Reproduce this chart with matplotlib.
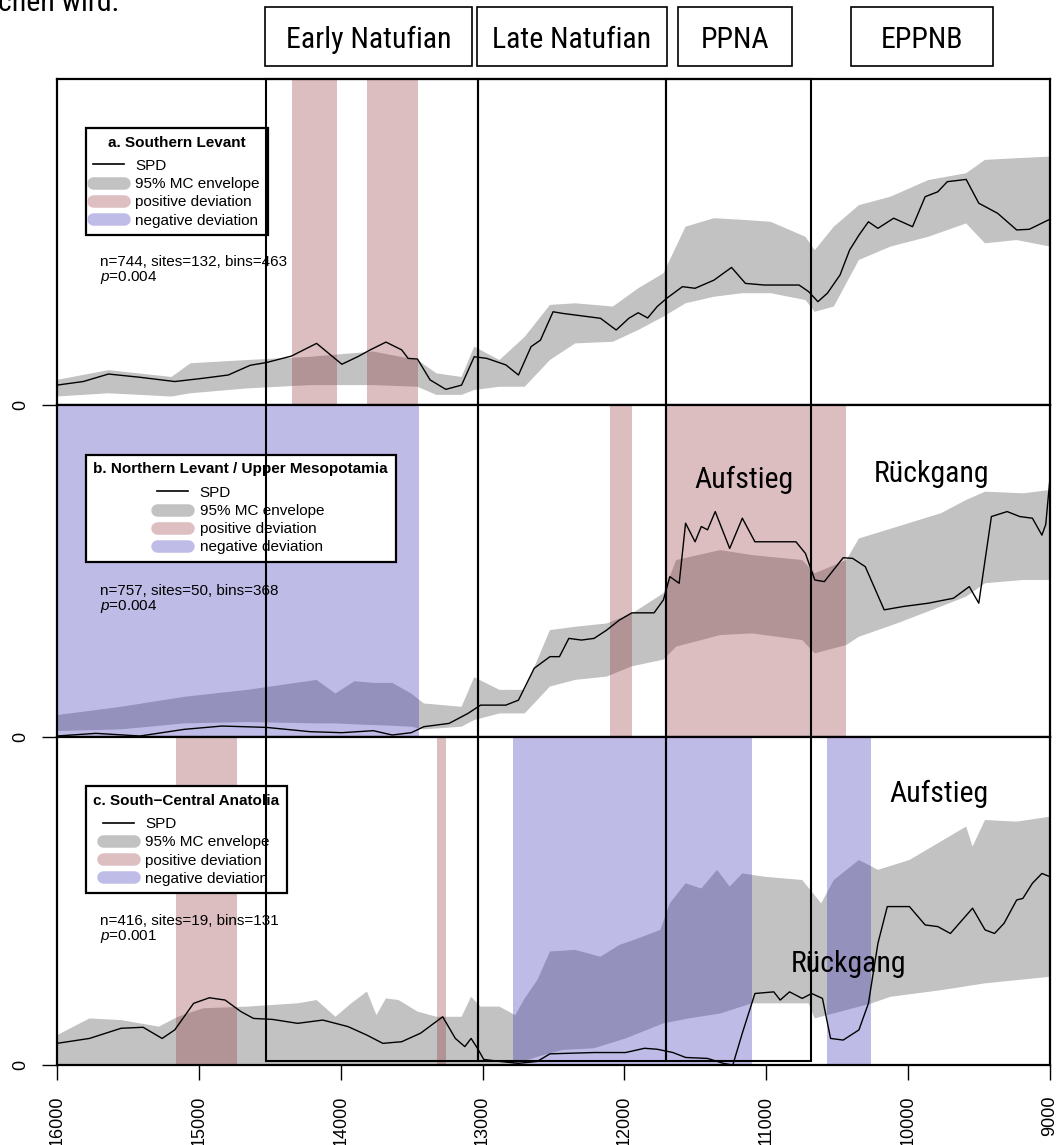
import matplotlib.pyplot as plt
import numpy as np
from matplotlib import font_manager
from matplotlib.lines import Line2D
from matplotlib.patches import Rectangle
from matplotlib.transforms import blended_transform_factory

plt.rcParams.update(
    {
        "font.family": ["Liberation Sans", "DejaVu Sans"],
        "mathtext.fontset": "custom",
        "mathtext.rm": "Liberation Sans",
        "mathtext.it": "Liberation Sans:italic",
    }
)


def _narrow_font():
    """Prefer a condensed face for the headings; otherwise shrink the regular one."""
    for name in ("Liberation Sans Narrow", "Arial Narrow", "Roboto Condensed"):
        try:
            font_manager.findfont(font_manager.FontProperties(family=name),
                                  fallback_to_default=False)
            return [name, "DejaVu Sans"], 21.5
        except ValueError:
            continue
    return ["Liberation Sans", "DejaVu Sans"], 19


NARROW, NARROW_SIZE = _narrow_font()

# --- a. Southern Levant -------------------------------------------------
a_spd_year = [16000, 15815, 15637, 15415, 15170, 14970, 14793, 14637, 14526, 14348,
              14170, 13992, 13881, 13792, 13681, 13570, 13525, 13459, 13370, 13259,
              13148, 13059, 12970, 12836, 12747, 12658, 12592, 12503, 12436, 12347,
              12169, 12058, 11969, 11903, 11836, 11769, 11703, 11591, 11502, 11369,
              11245, 11147, 11014, 10769, 10702, 10636, 10569, 10480, 10413, 10347,
              10280, 10213, 10102, 9969, 9880, 9791, 9724, 9591, 9502, 9369,
              9235, 9146, 9000]
a_spd = [0.061, 0.072, 0.095, 0.085, 0.072, 0.082, 0.092, 0.122, 0.130, 0.150,
         0.189, 0.125, 0.148, 0.169, 0.193, 0.169, 0.143, 0.141, 0.077, 0.048,
         0.061, 0.148, 0.143, 0.123, 0.092, 0.179, 0.199, 0.286, 0.281, 0.276,
         0.266, 0.230, 0.266, 0.283, 0.267, 0.302, 0.327, 0.363, 0.358, 0.383,
         0.422, 0.373, 0.368, 0.368, 0.348, 0.317, 0.343, 0.399, 0.475, 0.521,
         0.562, 0.542, 0.573, 0.547, 0.639, 0.654, 0.685, 0.692, 0.619, 0.588,
         0.537, 0.539, 0.570]
a_env_year = [16000, 15637, 15193, 15059, 14659, 14215, 13770, 13459, 13325, 13148,
              13059, 12881, 12703, 12525, 12347, 12081, 11903, 11725, 11569, 11369,
              11169, 10969, 10724, 10658, 10524, 10347, 10124, 9858, 9591, 9458,
              9235, 9000]
a_env_hi = [0.077, 0.107, 0.086, 0.128, 0.138, 0.148, 0.164, 0.138, 0.097, 0.086,
            0.179, 0.138, 0.209, 0.307, 0.312, 0.302, 0.358, 0.404, 0.547, 0.573,
            0.568, 0.562, 0.516, 0.475, 0.547, 0.613, 0.639, 0.690, 0.711, 0.752,
            0.757, 0.762]
a_env_lo = [0.026, 0.036, 0.026, 0.036, 0.051, 0.061, 0.061, 0.056, 0.031, 0.031,
            0.046, 0.056, 0.056, 0.138, 0.189, 0.194, 0.230, 0.271, 0.312, 0.332,
            0.343, 0.343, 0.322, 0.286, 0.302, 0.445, 0.486, 0.516, 0.557, 0.496,
            0.506, 0.486]
a_pos = [(14340, 14025), (13815, 13455)]
a_neg = []

# --- b. Northern Levant / Upper Mesopotamia -----------------------------
b_spd_year = [16000, 15726, 15415, 15104, 14837, 14526, 14215, 13992, 13770, 13637,
              13503, 13414, 13236, 13103, 13014, 12836, 12747, 12636, 12525, 12458,
              12392, 12303, 12214, 12125, 12036, 11947, 11791, 11725, 11680, 11614,
              11569, 11502, 11458, 11414, 11360, 11258, 11169, 11080, 10791, 10724,
              10658, 10591, 10458, 10391, 10302, 10169, 10035, 9858, 9680, 9569,
              9502, 9413, 9302, 9213, 9124, 9057, 9030, 9000]
b_spd = [0.003, 0.011, 0.003, 0.023, 0.033, 0.029, 0.016, 0.013, 0.019, 0.006,
         0.013, 0.031, 0.041, 0.071, 0.096, 0.096, 0.111, 0.207, 0.242, 0.242,
         0.297, 0.292, 0.297, 0.322, 0.352, 0.374, 0.374, 0.413, 0.483, 0.463,
         0.644, 0.588, 0.634, 0.624, 0.679, 0.568, 0.659, 0.588, 0.588, 0.553,
         0.473, 0.468, 0.540, 0.538, 0.513, 0.383, 0.393, 0.403, 0.418, 0.453,
         0.403, 0.664, 0.679, 0.664, 0.659, 0.608, 0.640, 0.780]
b_env_year = [16000, 15548, 15104, 14659, 14170, 14037, 13903, 13770, 13637, 13503,
              13414, 13148, 13059, 12881, 12703, 12525, 12347, 12125, 11947, 11725,
              11636, 11325, 11102, 10747, 10658, 10436, 10347, 10080, 9769, 9591,
              9458, 9191, 9000]
b_env_hi = [0.066, 0.091, 0.121, 0.142, 0.172, 0.131, 0.168, 0.163, 0.163, 0.131,
            0.101, 0.091, 0.180, 0.142, 0.142, 0.322, 0.332, 0.342, 0.372, 0.433,
            0.533, 0.563, 0.548, 0.533, 0.493, 0.533, 0.598, 0.633, 0.674, 0.714,
            0.739, 0.734, 0.744]
b_env_lo = [0.018, 0.023, 0.041, 0.045, 0.041, 0.041, 0.038, 0.036, 0.034, 0.031,
            0.023, 0.031, 0.051, 0.071, 0.071, 0.152, 0.172, 0.182, 0.213, 0.233,
            0.272, 0.307, 0.312, 0.292, 0.252, 0.277, 0.302, 0.342, 0.393, 0.423,
            0.463, 0.473, 0.473]
b_pos = [(12105, 11950), (11700, 10435)]
b_neg = [(16000, 13445)]

# --- c. South-Central Anatolia ------------------------------------------
c_spd_year = [16000, 15771, 15548, 15393, 15259, 15170, 15037, 14926, 14815, 14704,
              14615, 14481, 14304, 14126, 13948, 13815, 13703, 13570, 13437, 13281,
              13192, 13125, 13081, 13036, 12992, 12881, 12747, 12614, 12525, 12214,
              11992, 11858, 11769, 11658, 11569, 11414, 11302, 11236, 11169, 11080,
              10947, 10902, 10836, 10747, 10680, 10604, 10547, 10458, 10347, 10280,
              10213, 10147, 9991, 9880, 9791, 9702, 9546, 9458, 9391, 9324,
              9235, 9191, 9124, 9057, 9000]
c_spd = [0.066, 0.081, 0.112, 0.115, 0.081, 0.107, 0.188, 0.205, 0.198, 0.163,
         0.142, 0.139, 0.127, 0.137, 0.117, 0.091, 0.066, 0.071, 0.097, 0.147,
         0.081, 0.056, 0.081, 0.051, 0.017, 0.011, 0.005, 0.011, 0.034, 0.038,
         0.038, 0.051, 0.048, 0.038, 0.023, 0.020, 0.005, 0.000, 0.097, 0.218,
         0.223, 0.198, 0.223, 0.203, 0.218, 0.203, 0.081, 0.076, 0.107, 0.188,
         0.371, 0.483, 0.483, 0.427, 0.422, 0.401, 0.478, 0.412, 0.401, 0.432,
         0.503, 0.508, 0.554, 0.584, 0.574]
c_hi_year = [16000, 15771, 15548, 15282, 15148, 14970, 14659, 14304, 14170, 14037,
             13926, 13815, 13748, 13681, 13592, 13459, 13325, 13148, 13081, 13014,
             12881, 12770, 12703, 12614, 12525, 12347, 12169, 12036, 11903, 11747,
             11680, 11569, 11458, 11347, 11258, 11169, 11014, 10747, 10613, 10524,
             10347, 10213, 9991, 9591, 9546, 9458, 9235, 9000]
c_env_hi = [0.091, 0.142, 0.137, 0.117, 0.147, 0.173, 0.178, 0.188, 0.198, 0.147,
            0.188, 0.224, 0.152, 0.203, 0.198, 0.163, 0.147, 0.147, 0.208, 0.178,
            0.178, 0.152, 0.203, 0.259, 0.346, 0.351, 0.330, 0.366, 0.386, 0.412,
            0.493, 0.554, 0.538, 0.595, 0.544, 0.584, 0.574, 0.564, 0.493, 0.564,
            0.625, 0.595, 0.625, 0.727, 0.666, 0.747, 0.742, 0.757]
c_lo_year = [16000, 12792, 12614, 12436, 12214, 11992, 11725, 11547, 11325, 11102,
             10702, 10658, 10258, 10124, 9769, 9458, 9000]
c_env_lo = [0.0, 0.0, 0.025, 0.046, 0.051, 0.081, 0.127, 0.142, 0.157, 0.188,
            0.188, 0.142, 0.188, 0.208, 0.228, 0.249, 0.269]
c_pos = [(15160, 14730), (13322, 13260)]
c_neg = [(12783, 11104), (10570, 10265)]

titles = ["a. Southern Levant", "b. Northern Levant / Upper Mesopotamia",
          "c. South\u2212Central Anatolia"]
stats = ["n=744, sites=132, bins=463\n$p$=0.004",
         "n=757, sites=50, bins=368\n$p$=0.004",
         "n=416, sites=19, bins=131\n$p$=0.001"]

# cultural periods drawn as boxes through all panels (cal BP)
periods = [(14530, 13035), (13035, 11705), (11705, 10685)]
period_labels = ["Early Natufian", "Late Natufian", "PPNA", "EPPNB"]
x_ticks = [16000, 15000, 14000, 13000, 12000, 11000, 10000, 9000]

# (text, panel index, year, height) for the trend notes
notes = [("Aufstieg", 1, 11160, 0.75), ("R\u00fcckgang", 1, 9838, 0.768),
         ("Aufstieg", 2, 9782, 0.802), ("R\u00fcckgang", 2, 10423, 0.284)]

ENV_GREY = "#c2c2c2"
POS_COLOR = (0.557, 0.165, 0.204)
NEG_COLOR = (0.176, 0.125, 0.698)
SPAN_ALPHA = 0.3
POS_KEY = "#ddbfc2"
NEG_KEY = "#c0bce8"
LEGEND_SIZE = 11

W, H = 1058, 1145
fig = plt.figure(figsize=(W / 100, H / 100), dpi=100)


def fx(px):
    return px / W


def fy(py):
    return 1 - py / H


ax_left, ax_right = 57, 1050
panel_rows = [(79, 405), (405, 737), (737, 1065)]
panels = [
    (a_spd_year, a_spd, a_env_year, a_env_hi, a_env_year, a_env_lo, a_pos, a_neg),
    (b_spd_year, b_spd, b_env_year, b_env_hi, b_env_year, b_env_lo, b_pos, b_neg),
    (c_spd_year, c_spd, c_hi_year, c_env_hi, c_lo_year, c_env_lo, c_pos, c_neg),
]

axes = []
for i, ((top, bottom), data) in enumerate(zip(panel_rows, panels)):
    spd_x, spd_y, hi_x, hi_y, lo_x, lo_y, pos, neg = data
    ax = fig.add_axes([fx(ax_left), fy(bottom), (ax_right - ax_left) / W, (bottom - top) / H])
    axes.append(ax)

    env_x = np.r_[hi_x, lo_x[::-1]]
    env_y = np.r_[hi_y, lo_y[::-1]]
    ax.fill(env_x, env_y, color=ENV_GREY, lw=0, zorder=1)
    for x0, x1 in pos:
        ax.axvspan(x0, x1, color=POS_COLOR, alpha=SPAN_ALPHA, lw=0, zorder=2)
    for x0, x1 in neg:
        ax.axvspan(x0, x1, color=NEG_COLOR, alpha=SPAN_ALPHA, lw=0, zorder=2)
    ax.plot(spd_x, spd_y, color="black", lw=1.0, zorder=3)

    ax.set_xlim(16000, 9000)
    ax.set_ylim(0, 1)
    ax.set_yticks([0])
    ax.set_yticklabels(["0"], rotation=90, va="center")
    ax.tick_params(axis="y", length=11, width=1.0, pad=9, labelsize=13)
    for spine in ax.spines.values():
        spine.set_linewidth(1.6)

    handles = [
        Line2D([], [], color="black", lw=1.2),
        Line2D([], [], color=ENV_GREY, lw=9, solid_capstyle="round"),
        Line2D([], [], color=POS_KEY, lw=9, solid_capstyle="round"),
        Line2D([], [], color=NEG_KEY, lw=9, solid_capstyle="round"),
    ]
    leg = ax.legend(
        handles,
        ["SPD", "95% MC envelope", "positive deviation", "negative deviation"],
        title=titles[i],
        title_fontproperties={"weight": "bold", "size": LEGEND_SIZE},
        loc="upper left",
        bbox_to_anchor=(0.029, 0.85),
        borderaxespad=0,
        fontsize=LEGEND_SIZE,
        fancybox=False,
        framealpha=1,
        edgecolor="black",
        handlelength=2.0,
        handletextpad=0.75,
        labelspacing=0.28,
        borderpad=0.5,
    )
    # a little more air between the title and the entries
    leg._legend_box.sep = LEGEND_SIZE * 0.28 + 3.5
    leg.get_frame().set_linewidth(1.6)
    leg.set_zorder(5)

    ax.text(0.043, 0.46, stats[i], transform=ax.transAxes, ha="left", va="top",
            fontsize=LEGEND_SIZE, linespacing=1.0, zorder=6)

    if i < 2:
        ax.tick_params(axis="x", bottom=False, labelbottom=False)
    else:
        ax.set_xticks(x_ticks)
        ax.set_xticklabels([str(t) for t in x_ticks], rotation=90, va="top")
        ax.tick_params(axis="x", length=11, width=1.0, pad=11, labelsize=13)

for text, idx, year, height in notes:
    axes[idx].text(year, height, text, ha="center", va="baseline", fontsize=NARROW_SIZE,
                   family=NARROW, zorder=7)

# period boxes spanning the three panels
trans = blended_transform_factory(axes[2].transData, fig.transFigure)
box_top, box_bottom = 79, 1061
for x0, x1 in periods:
    fig.add_artist(Rectangle((x0, fy(box_bottom)), x1 - x0, (box_bottom - box_top) / H,
                             transform=trans, fill=False, ec="black", lw=1.5,
                             clip_on=False))

# period headers above the plot
header_spans = [(265, 472), (477, 667), (678, 792), (851, 993)]
for label, (x0, x1) in zip(period_labels, header_spans):
    fig.add_artist(Rectangle((fx(x0), fy(66)), (x1 - x0) / W, (66 - 7) / H,
                             transform=fig.transFigure, fill=False, ec="black", lw=1.2))
    fig.text(fx((x0 + x1) / 2), fy(48), label, ha="center", va="baseline",
             fontsize=NARROW_SIZE, family=NARROW)

fig.text(fx(-2), fy(11), "chen wird:", ha="left", va="baseline", fontsize=NARROW_SIZE,
         family=NARROW)

fig.savefig("out.png", dpi=100)
